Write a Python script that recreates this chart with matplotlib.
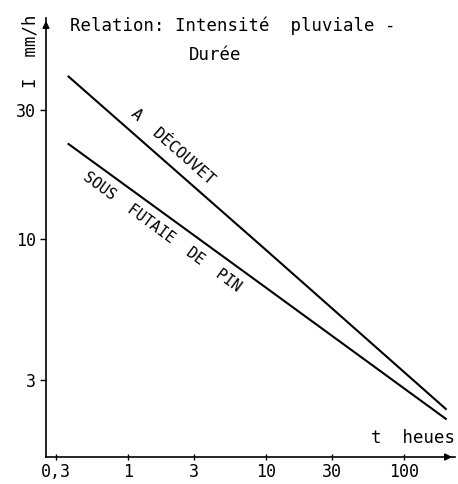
import matplotlib
matplotlib.use("Agg")
import matplotlib.pyplot as plt

# durations (h) and intensities (mm/h)
t_open = [0.37, 10, 200]
i_open = [40, 9.1, 2.35]
t_forest = [0.37, 10, 200]
i_forest = [22.5, 6.6, 2.16]

x_ticks = [0.3, 1, 3, 10, 30, 100]
x_labels = ["0,3", "1", "3", "10", "30", "100"]
y_ticks = [3, 10, 30]
y_labels = ["3", "10", "30"]

# stencil-like lettering -> monospace
plt.rcParams['font.family'] = ['DejaVu Sans Mono']

fig = plt.figure(figsize=(4.58, 4.84), dpi=100)
ax = fig.add_axes([0.1004, 0.0558, 0.893, 0.907])

ax.plot(t_open, i_open, color='black', lw=1.5)
ax.plot(t_forest, i_forest, color='black', lw=1.5)

ax.set_xscale('log')
ax.set_yscale('log')
ax.set_xlim(0.254, 233)
ax.set_ylim(1.56, 65.9)

ax.spines['top'].set_visible(False)
ax.spines['right'].set_visible(False)
ax.spines['left'].set_linewidth(1.2)
ax.spines['bottom'].set_linewidth(1.2)

ax.minorticks_off()
ax.set_xticks(x_ticks)
ax.set_xticklabels(x_labels, fontsize=12)
ax.set_yticks(y_ticks)
ax.set_yticklabels(y_labels, fontsize=12)
ax.tick_params(axis='x', direction='inout', length=5, width=1, pad=2)
ax.tick_params(axis='y', direction='out', length=4, width=1, pad=3)

# arrow heads on the axes
ax.annotate('', xy=(1.0, 0), xytext=(0.97, 0), xycoords='axes fraction',
            arrowprops=dict(arrowstyle='-|>', color='black', lw=1.2), annotation_clip=False)
ax.annotate('', xy=(0, 1.0), xytext=(0, 0.97), xycoords='axes fraction',
            arrowprops=dict(arrowstyle='-|>', color='black', lw=1.2), annotation_clip=False)

ax.text(2.1, 22.0, "A  DÉCOUVET", rotation=-41.5, ha='center', va='center', fontsize=11.5)
ax.text(1.76, 10.6, "SOUS  FUTAIE  DE  PIN", rotation=-36.2, ha='center', va='center', fontsize=11)

fig.text(0.152, 0.946, "Relation: Intensité  pluviale -", fontsize=12.5, ha='left', va='center')
fig.text(0.47, 0.886, "Durée", fontsize=12.5, ha='center', va='center')
fig.text(0.066, 0.895, "I  mm/h", fontsize=12.5, rotation=90, ha='center', va='center')
fig.text(0.994, 0.095, "t  heues", fontsize=12.5, ha='right', va='center')

fig.savefig("out.png", dpi=100)
